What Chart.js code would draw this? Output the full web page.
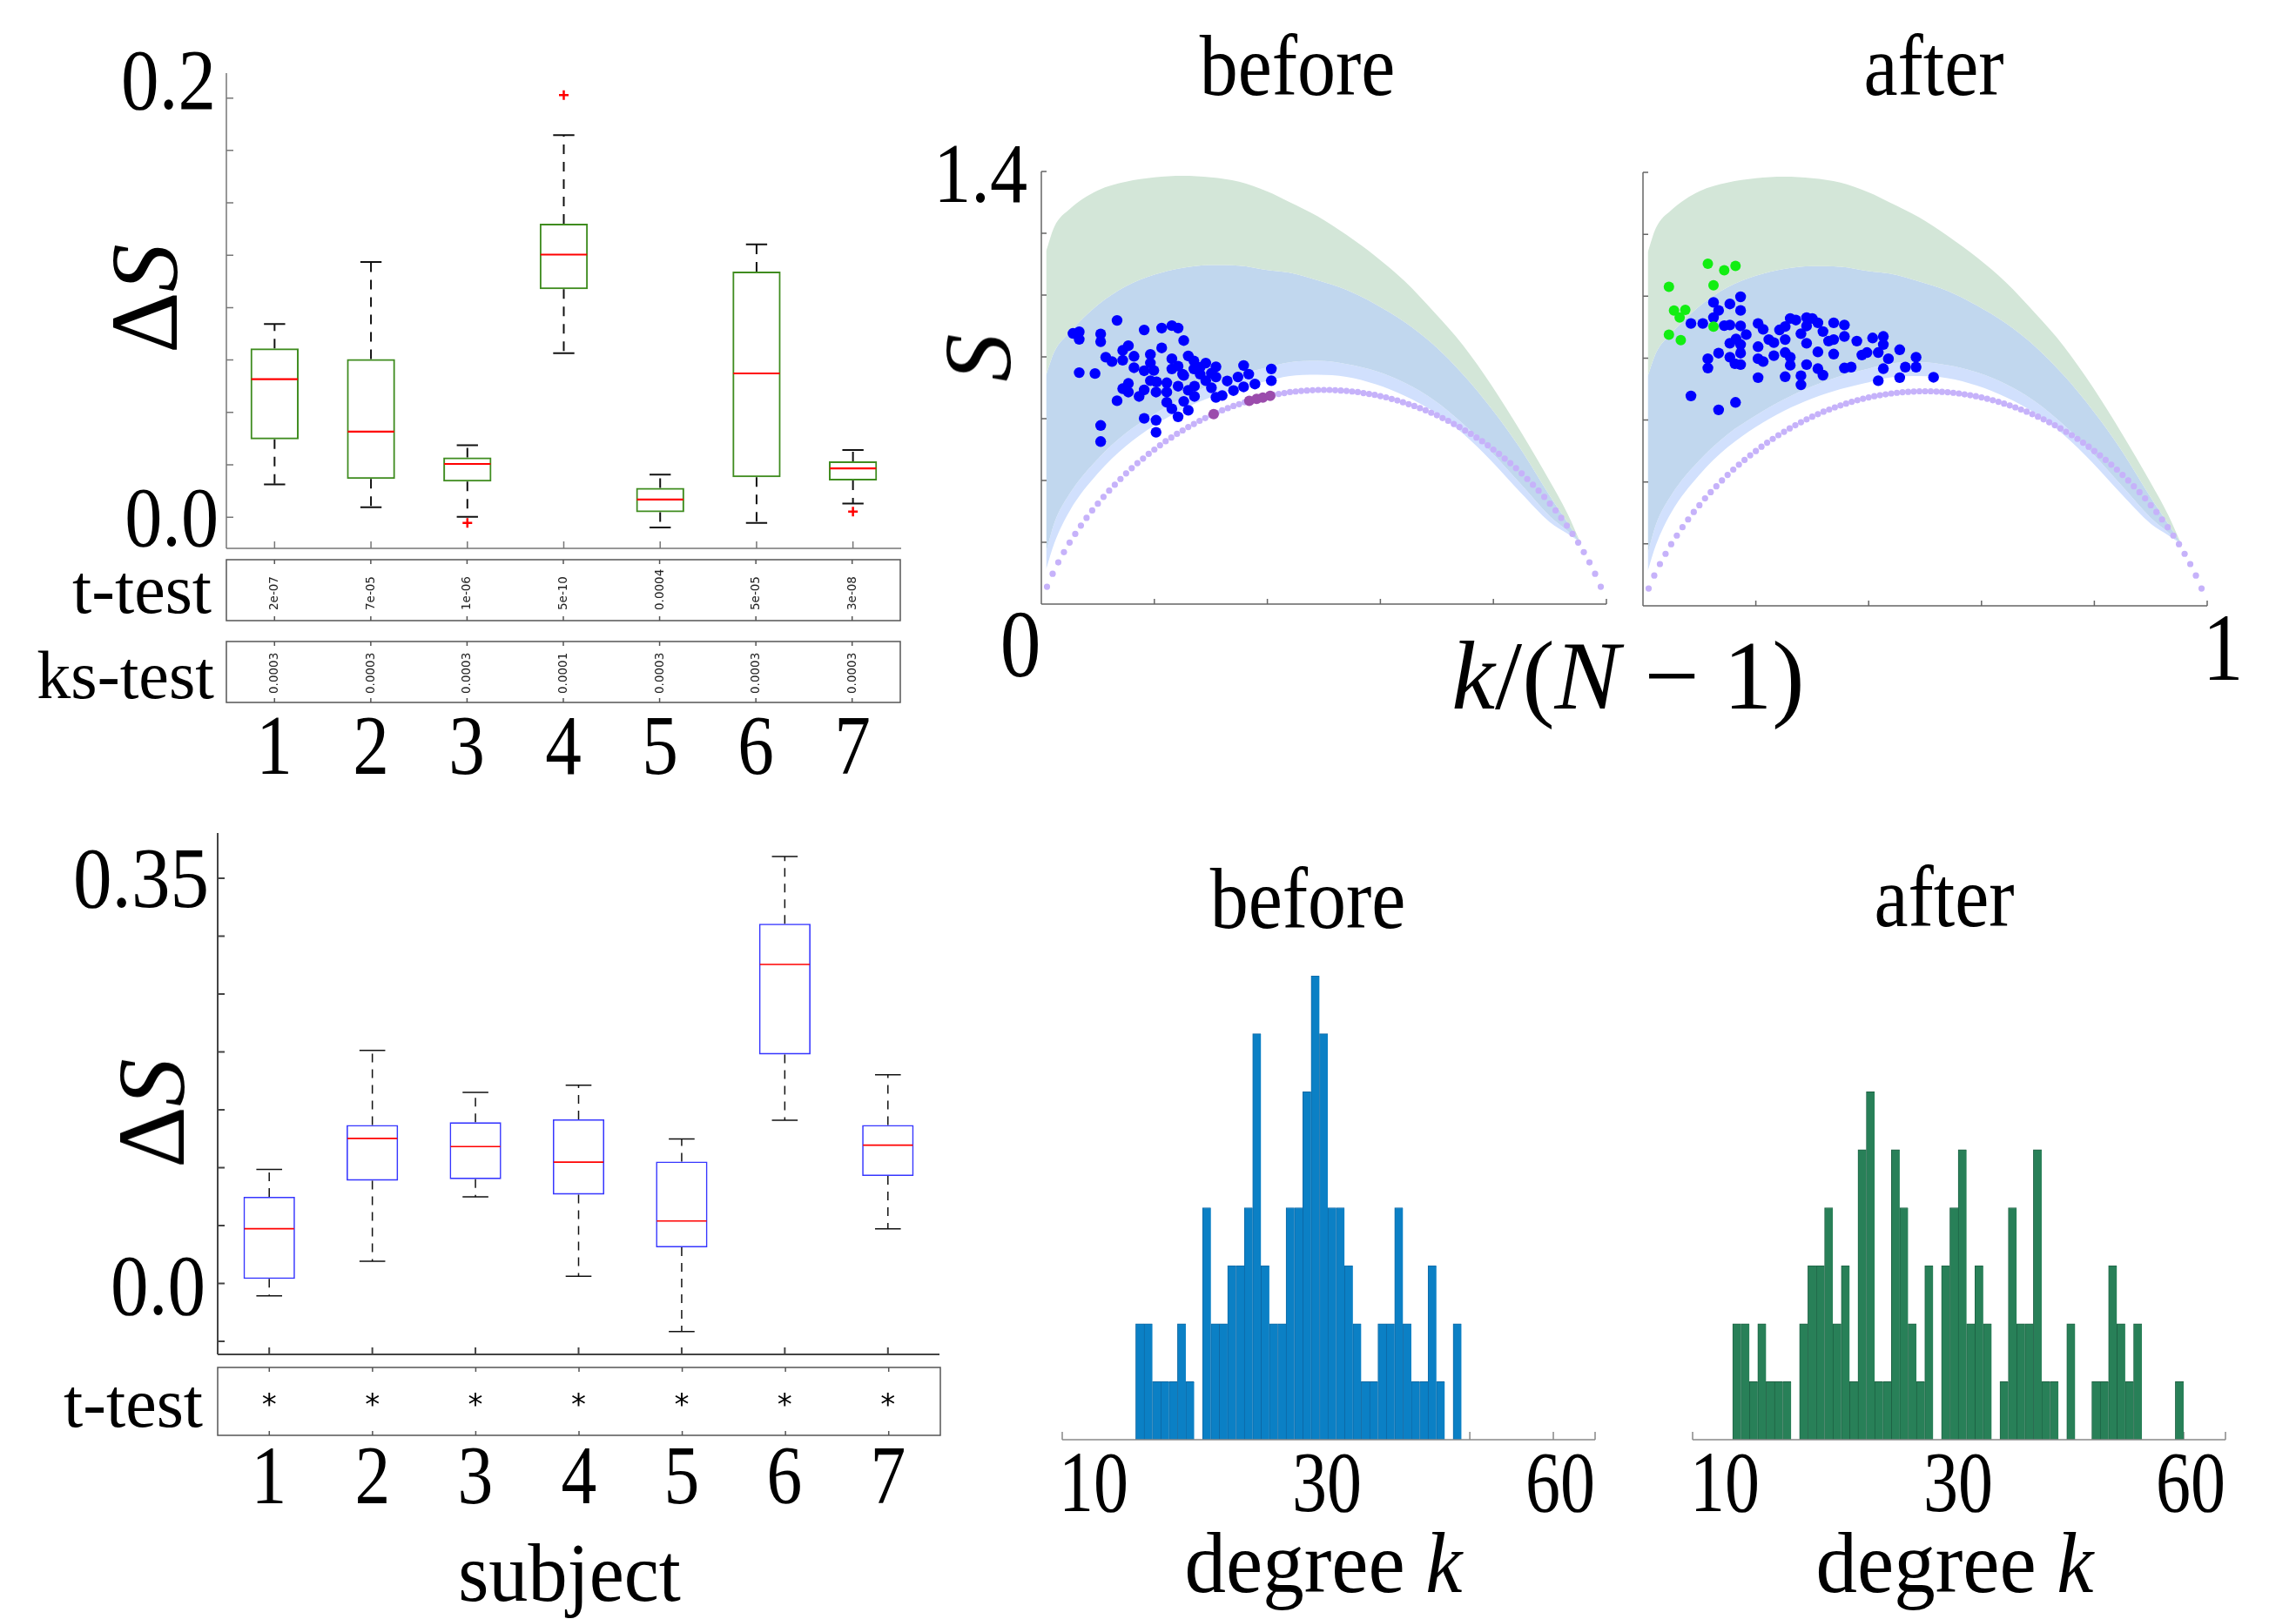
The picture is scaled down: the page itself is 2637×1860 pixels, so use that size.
<!DOCTYPE html>
<html>
<head>
<meta charset="utf-8">
<title>entropy figure</title>
<script src="https://cdn.jsdelivr.net/npm/chart.js@4.4.1/dist/chart.umd.min.js"></script>
<style>
  html, body { margin: 0; padding: 0; background: #fff; }
  #fig { position: relative; width: 2637px; height: 1860px; overflow: hidden; background: #fff;
         font-family: "Liberation Serif", "DejaVu Serif", serif; color: #000; }
  #fig canvas { position: absolute; }
  .lbl { position: absolute; white-space: nowrap; line-height: 1; }
  .pv { position: absolute; white-space: nowrap; line-height: 1; font-family: "DejaVu Sans", sans-serif;
        font-size: 13.5px; color: #222; transform-origin: 0 0; transform: rotate(-90deg) translate(0, -50%); }
  .star { position: absolute; line-height: 1; font-family: "DejaVu Sans", sans-serif; font-size: 34px;
          transform: translateX(-50%); }
</style>
</head>
<body>
<div id="fig"></div>
<script>
// ---- values ----
const subjects = [1, 2, 3, 4, 5, 6, 7];

// top box plot (green)
const topLow  = [0.0156, 0.0047, 0.0002, 0.0782, -0.0049, -0.0028, 0.0065];
const topQ1   = [0.0371, 0.0182, 0.0170, 0.1088, 0.0023, 0.0191, 0.0175];
const topMed  = [0.0658, 0.0408, 0.0254, 0.1253, 0.0084, 0.0686, 0.0233];
const topQ3   = [0.0805, 0.0754, 0.0285, 0.1400, 0.0140, 0.1172, 0.0266];
const topHigh = [0.0922, 0.1218, 0.0343, 0.1823, 0.0203, 0.1302, 0.0320];
const topOutliers = [[3, -0.0028], [4, 0.2014], [7, 0.0026]];
const tTestTop  = ['2e-07', '7e-05', '1e-06', '5e-10', '0.0004', '5e-05', '3e-08'];
const ksTestTop = ['0.0003', '0.0003', '0.0003', '0.0001', '0.0003', '0.0003', '0.0003'];

// bottom box plot (blue)
const botLow  = [-0.0107, 0.0192, 0.0749, 0.0062, -0.0415, 0.1409, 0.0473];
const botQ1   = [0.0040, 0.0888, 0.0901, 0.0768, 0.0312, 0.1978, 0.0928];
const botMed  = [0.0473, 0.1253, 0.1182, 0.1048, 0.0540, 0.2755, 0.1195];
const botQ3   = [0.0749, 0.1369, 0.1392, 0.1418, 0.1053, 0.3107, 0.1369];
const botHigh = [0.0986, 0.2012, 0.1650, 0.1713, 0.1249, 0.3688, 0.1802];
const tTestBot = ['*', '*', '*', '*', '*', '*', '*'];

// S vs k/(N-1): shaded bands (shared by both panels)
const bandX      = [0.0085, 0.023, 0.05, 0.10, 0.15, 0.20, 0.25, 0.30, 0.35, 0.40, 0.437, 0.489, 0.54, 0.592, 0.643, 0.695, 0.746, 0.797, 0.849, 0.90, 0.931, 0.954];
const greenTop   = [1.142, 1.221, 1.278, 1.339, 1.367, 1.381, 1.386, 1.381, 1.367, 1.335, 1.303, 1.255, 1.195, 1.125, 1.045, 0.945, 0.838, 0.707, 0.556, 0.397, 0.293, 0.20];
const blueTop    = [0.742, 0.817, 0.879, 0.968, 1.029, 1.066, 1.088, 1.097, 1.095, 1.081, 1.073, 1.048, 1.017, 0.970, 0.913, 0.838, 0.744, 0.632, 0.500, 0.350, 0.265, 0.20];
const lightTop   = [0.169, 0.263, 0.357, 0.470, 0.554, 0.615, 0.667, 0.709, 0.742, 0.766, 0.782, 0.787, 0.777, 0.754, 0.716, 0.660, 0.584, 0.491, 0.387, 0.284, 0.237, 0.20];
const lightBot   = [0.113, 0.197, 0.301, 0.423, 0.512, 0.578, 0.630, 0.670, 0.700, 0.722, 0.737, 0.742, 0.735, 0.711, 0.674, 0.622, 0.552, 0.462, 0.359, 0.265, 0.228, 0.20];

// lower dotted curve
const curveX = [0.01, 0.02, 0.03, 0.04, 0.05, 0.06, 0.07, 0.08, 0.09, 0.10, 0.11, 0.12, 0.13, 0.14, 0.15, 0.16, 0.17, 0.18, 0.19, 0.20,
  0.21, 0.22, 0.23, 0.24, 0.25, 0.26, 0.27, 0.28, 0.29, 0.30, 0.31, 0.32, 0.33, 0.34, 0.35, 0.36, 0.37, 0.38, 0.39, 0.40,
  0.41, 0.42, 0.43, 0.44, 0.45, 0.46, 0.47, 0.48, 0.49, 0.50, 0.51, 0.52, 0.53, 0.54, 0.55, 0.56, 0.57, 0.58, 0.59, 0.60,
  0.61, 0.62, 0.63, 0.64, 0.65, 0.66, 0.67, 0.68, 0.69, 0.70, 0.71, 0.72, 0.73, 0.74, 0.75, 0.76, 0.77, 0.78, 0.79, 0.80,
  0.81, 0.82, 0.83, 0.84, 0.85, 0.86, 0.87, 0.88, 0.89, 0.90, 0.91, 0.92, 0.93, 0.94, 0.95, 0.96, 0.97, 0.98, 0.99];
const curveY = [0.056, 0.098, 0.135, 0.168, 0.199, 0.227, 0.254, 0.279, 0.303, 0.325, 0.347, 0.367, 0.386, 0.405, 0.423, 0.440, 0.456, 0.471, 0.486, 0.500,
  0.514, 0.527, 0.539, 0.551, 0.562, 0.573, 0.583, 0.593, 0.602, 0.611, 0.619, 0.627, 0.634, 0.641, 0.647, 0.653, 0.659, 0.664, 0.669, 0.673,
  0.677, 0.680, 0.683, 0.686, 0.688, 0.690, 0.691, 0.692, 0.693, 0.693, 0.693, 0.692, 0.691, 0.690, 0.688, 0.686, 0.683, 0.680, 0.677, 0.673,
  0.669, 0.664, 0.659, 0.653, 0.647, 0.641, 0.634, 0.627, 0.619, 0.611, 0.602, 0.593, 0.583, 0.573, 0.562, 0.551, 0.539, 0.527, 0.514, 0.500,
  0.486, 0.471, 0.456, 0.440, 0.423, 0.405, 0.386, 0.367, 0.347, 0.325, 0.303, 0.279, 0.254, 0.227, 0.199, 0.168, 0.135, 0.098, 0.056];

const beforeDots = [
  [.056,.876],[.067,.881],[.067,.857],[.105,.874],[.105,.849],[.134,.918],[.182,.887],[.213,.893],[.231,.901],[.242,.893],
  [.252,.853],[.213,.829],[.067,.749],[.095,.746],[.114,.799],[.125,.785],[.144,.789],[.144,.821],[.154,.836],[.164,.802],
  [.164,.765],[.182,.755],[.193,.808],[.193,.780],[.199,.756],[.193,.723],[.204,.719],[.222,.716],[.231,.794],[.231,.761],
  [.242,.770],[.250,.744],[.260,.803],[.270,.787],[.270,.761],[.281,.744],[.291,.780],[.301,.747],[.309,.768],[.309,.735],
  [.329,.722],[.348,.735],[.358,.772],[.367,.744],[.407,.761],[.407,.723],[.378,.712],[.358,.703],[.340,.691],[.320,.675],
  [.309,.669],[.301,.700],[.271,.705],[.271,.672],[.260,.692],[.252,.656],[.260,.627],[.242,.705],[.242,.606],[.231,.632],
  [.222,.653],[.222,.686],[.203,.686],[.182,.693],[.173,.672],[.154,.714],[.144,.697],[.154,.686],[.134,.658],[.182,.601],
  [.203,.595],[.203,.556],[.105,.578],[.105,.526],[.281,.766],[.291,.723],[.252,.740]
];
const beforeOnCurve = [[.305,.615],[.368,.658],[.381,.664],[.392,.668],[.405,.674]];

const afterDots = [
  [.085,.912],[.106,.912],[.125,.980],[.154,.975],[.173,.998],[.173,.954],[.134,.954],[.125,.931],[.144,.905],[.154,.907],
  [.173,.904],[.183,.876],[.165,.862],[.154,.848],[.173,.844],[.134,.816],[.115,.798],[.115,.768],[.154,.803],[.163,.782],
  [.173,.779],[.173,.816],[.204,.912],[.213,.893],[.204,.837],[.204,.798],[.213,.789],[.223,.860],[.232,.850],[.232,.808],
  [.242,.891],[.252,.902],[.252,.860],[.252,.818],[.261,.928],[.271,.923],[.261,.803],[.261,.777],[.280,.879],[.290,.931],
  [.290,.904],[.300,.928],[.310,.914],[.319,.886],[.290,.848],[.310,.820],[.329,.855],[.338,.860],[.338,.914],[.357,.907],
  [.357,.870],[.338,.813],[.379,.855],[.388,.810],[.397,.818],[.407,.865],[.426,.870],[.426,.844],[.417,.818],[.435,.798],
  [.426,.766],[.455,.827],[.465,.771],[.484,.803],[.484,.771],[.357,.768],[.369,.771],[.290,.779],[.310,.766],[.319,.745],
  [.280,.743],[.280,.714],[.252,.740],[.204,.737],[.417,.727],[.455,.737],[.515,.738],[.085,.678],[.134,.633],[.164,.657]
];
const afterGreen = [[.115,1.105],[.144,1.084],[.164,1.098],[.046,1.030],[.125,1.035],[.055,.954],[.075,.956],[.065,.931],[.125,.902],[.046,.876],[.067,.858]];

// degree histograms: one bar per degree, counts from the first degree on
const beforeStart = 10;
const beforeCounts = [2,2,1,1,1,2,1,0,4,2,2,3,3,4,7,3,2,2,4,4,6,8,7,4,4,3,2,1,1,2,2,4,2,1,1,3,1,0,2];
const afterStart = 6;
const afterCounts = [2,2,1,2,1,1,1,0,2,3,3,4,2,3,1,5,6,1,1,5,4,2,1,3,0,3,4,5,2,3,2,0,1,4,2,2,5,1,1,0,2,0,0,1,1,3,2,1,2,0,0,0,0,1];
const histTickLabels = ['10', '30', '60'];

// ---- layout ----
const fig = document.getElementById('fig');
const P = 24;

function place(area) {
  const c = document.createElement('canvas');
  c.width = area.r - area.l + 2 * P;
  c.height = area.b - area.t + 2 * P;
  c.style.left = (area.l - P) + 'px';
  c.style.top = (area.t - P) + 'px';
  fig.appendChild(c);
  return c;
}

function baseOptions(xr, yr, xTickValues) {
  const x = { type: 'linear', display: false, min: xr[0], max: xr[1], offset: false };
  if (xTickValues) x.afterBuildTicks = scale => { scale.ticks = xTickValues.map(v => ({ value: v })); };
  return {
    responsive: false, animation: false, devicePixelRatio: 1, events: [],
    layout: { padding: P },
    plugins: { legend: { display: false }, tooltip: { enabled: false } },
    scales: { x, y: { type: 'linear', display: false, min: yr[0], max: yr[1] } }
  };
}

// spines and inward ticks
function framePlugin(cfg) {
  const draw = (chart, part) => {
    const { ctx, chartArea: a, scales: { x, y } } = chart;
    ctx.save();
    ctx.strokeStyle = cfg.color || '#666';
    ctx.lineWidth = cfg.width || 1.5;
    ctx.beginPath();
    if (part !== 'ticks') {
      if (cfg.box) ctx.rect(a.left, a.top, a.right - a.left, a.bottom - a.top);
      if (cfg.left) { ctx.moveTo(a.left, a.top); ctx.lineTo(a.left, a.bottom); }
      if (cfg.bottom) { ctx.moveTo(a.left, a.bottom); ctx.lineTo(a.right, a.bottom); }
    }
    if (part !== 'lines') {
      (cfg.yTicks || []).forEach(v => {
        const py = y.getPixelForValue(v);
        ctx.moveTo(a.left, py); ctx.lineTo(a.left + cfg.len, py);
      });
      (cfg.xTicks || []).forEach(v => {
        const px = x.getPixelForValue(v);
        ctx.moveTo(px, a.bottom); ctx.lineTo(px, a.bottom - cfg.len);
        if (cfg.topTicks) { ctx.moveTo(px, a.top); ctx.lineTo(px, a.top + cfg.len); }
      });
    }
    ctx.stroke();
    ctx.restore();
  };
  return {
    id: 'frame',
    beforeDatasetsDraw(chart) { if (cfg.ticksUnder) draw(chart, 'ticks'); },
    afterDatasetsDraw(chart) { draw(chart, cfg.ticksUnder ? 'lines' : 'all'); }
  };
}

// whiskers, caps and medians of a box plot
function whiskerPlugin(st) {
  return {
    id: 'whiskers',
    afterDatasetsDraw(chart) {
      const { ctx, scales: { x, y } } = chart;
      ctx.save();
      subjects.forEach((s, i) => {
        const px = x.getPixelForValue(s);
        const cap = x.getPixelForValue(s + st.cap / 2) - px;
        const half = x.getPixelForValue(s + 0.25) - px;
        ctx.strokeStyle = '#111';
        ctx.lineWidth = st.wW;
        ctx.setLineDash(st.dash);
        ctx.beginPath();
        ctx.moveTo(px, y.getPixelForValue(st.q3[i])); ctx.lineTo(px, y.getPixelForValue(st.high[i]));
        ctx.moveTo(px, y.getPixelForValue(st.q1[i])); ctx.lineTo(px, y.getPixelForValue(st.low[i]));
        ctx.stroke();
        ctx.setLineDash([]);
        ctx.beginPath();
        [st.high[i], st.low[i]].forEach(v => {
          const py = y.getPixelForValue(v);
          ctx.moveTo(px - cap, py); ctx.lineTo(px + cap, py);
        });
        ctx.stroke();
        ctx.strokeStyle = '#ff0000';
        ctx.lineWidth = st.medW;
        ctx.beginPath();
        const pm = y.getPixelForValue(st.med[i]);
        ctx.moveTo(px - half + 1, pm); ctx.lineTo(px + half - 1, pm);
        ctx.stroke();
      });
      ctx.restore();
    }
  };
}

function boxChart(area, yr, st, color, boxW, outliers) {
  const opts = baseOptions([0.5, 7.5], yr, subjects);
  const datasets = [{
    type: 'bar',
    data: subjects.map((s, i) => ({ x: s, y: [st.q1[i], st.q3[i]] })),
    backgroundColor: 'rgba(255,255,255,0)',
    borderColor: color, borderWidth: boxW, borderSkipped: false,
    barPercentage: 0.5, categoryPercentage: 1
  }];
  if (outliers.length) datasets.unshift({
    type: 'line', showLine: false,
    data: outliers.map(p => ({ x: p[0], y: p[1] })),
    pointStyle: 'cross', pointRadius: 5.5, pointBorderWidth: 2.5,
    pointBorderColor: '#ff0000', clip: false
  });
  return new Chart(place(area), {
    type: 'bar', data: { datasets }, options: opts,
    plugins: [whiskerPlugin(st), framePlugin({ left: true, bottom: true, len: 8, color: st.axis, width: st.axisW,
      yTicks: st.yTicks, xTicks: subjects })]
  });
}

function rowChart(area) {
  return new Chart(place(area), {
    type: 'scatter', data: { datasets: [] }, options: baseOptions([0.5, 7.5], [0, 1], subjects),
    plugins: [framePlugin({ box: true, len: 5, color: '#555', width: 1.5, xTicks: subjects, topTicks: true })]
  });
}

function scatterChart(area, dots, extra) {
  const pts = arr => arr.map(p => ({ x: p[0], y: p[1] }));
  const band = (ys, fill, color) => ({
    data: bandX.map((v, i) => ({ x: v, y: ys[i] })),
    showLine: true, borderWidth: 0, borderColor: 'rgba(0,0,0,0)', pointRadius: 0,
    cubicInterpolationMode: 'monotone', fill: fill, backgroundColor: color
  });
  const datasets = [
    ...extra,
    { data: pts(dots), showLine: false, pointRadius: 6.2, pointBorderWidth: 0, pointBackgroundColor: '#0000ff', clip: false },
    { data: curveX.map((v, i) => ({ x: v, y: curveY[i] })), showLine: false, pointRadius: 3.6, pointBorderWidth: 0,
      pointBackgroundColor: 'rgb(198,178,250)', clip: false },
    band(greenTop, '+1', 'rgb(211,230,216)'),
    band(blueTop, '+1', 'rgb(193,215,238)'),
    band(lightTop, '+1', 'rgb(209,224,253)'),
    band(lightBot, false, 'rgba(0,0,0,0)')
  ];
  return new Chart(place(area), {
    type: 'line', data: { datasets }, options: baseOptions([0, 1], [0, 1.4]),
    plugins: [framePlugin({ left: true, bottom: true, len: 6, color: '#666', width: 1.5,
      yTicks: [0, 0.2, 0.4, 0.6, 0.8, 1.0, 1.2, 1.4], xTicks: [0, 0.2, 0.4, 0.6, 0.8, 1.0] })]
  });
}

function histChart(area, start, counts, fill, edge) {
  const opts = baseOptions([1.2, 65], [0, 8]);
  return new Chart(place(area), {
    type: 'bar',
    data: { datasets: [{
      data: counts.map((c, i) => ({ x: start + i + 0.5, y: c })),
      backgroundColor: fill, borderColor: edge,
      borderWidth: { left: 1, top: 1, right: 0, bottom: 0 },
      barPercentage: 1, categoryPercentage: 1
    }] },
    options: opts,
    plugins: [framePlugin({ bottom: true, len: 9, color: '#888', width: 1.5, ticksUnder: true, xTicks: [1.2, 50, 60, 65] })]
  });
}

// ---- charts ----
const topArea = { l: 260, t: 84, r: 1035, b: 630 };
const topBox = boxChart(topArea, [-0.0149, 0.2119],
  { low: topLow, q1: topQ1, med: topMed, q3: topQ3, high: topHigh, cap: 0.22, dash: [11, 9], wW: 2, medW: 2.2,
    axis: '#777', axisW: 1.5, yTicks: [0, 0.025, 0.05, 0.075, 0.1, 0.125, 0.15, 0.175, 0.2] },
  '#3f8c1f', 2, topOutliers);
const tRowTop = rowChart({ l: 260, t: 643, r: 1034, b: 713 });
const ksRowTop = rowChart({ l: 260, t: 737, r: 1034, b: 807 });

const botArea = { l: 250, t: 957, r: 1079, b: 1556 };
const botBox = boxChart(botArea, [-0.0612, 0.389],
  { low: botLow, q1: botQ1, med: botMed, q3: botQ3, high: botHigh, cap: 0.25, dash: [10, 8], wW: 1.5, medW: 1.6,
    axis: '#444', axisW: 2, yTicks: [-0.05, 0, 0.05, 0.1, 0.15, 0.2, 0.25, 0.3, 0.35] },
  '#3636ff', 1.6, []);
const tRowBot = rowChart({ l: 250, t: 1571, r: 1080, b: 1649 });

const scBeforeArea = { l: 1196, t: 197, r: 1845, b: 694 };
const scAfterArea = { l: 1887, t: 198, r: 2535, b: 696 };
scatterChart(scBeforeArea, beforeDots, [
  { data: beforeOnCurve.map(p => ({ x: p[0], y: p[1] })), showLine: false, pointRadius: 6, pointBorderWidth: 0,
    pointBackgroundColor: 'rgb(155,76,172)', clip: false }
]);
scatterChart(scAfterArea, afterDots, [
  { data: afterGreen.map(p => ({ x: p[0], y: p[1] })), showLine: false, pointRadius: 6, pointBorderWidth: 0,
    pointBackgroundColor: '#12ee12', clip: false }
]);

histChart({ l: 1220, t: 1121, r: 1832, b: 1654 }, beforeStart, beforeCounts, 'rgb(11,128,197)', 'rgb(14,104,165)');
histChart({ l: 1944, t: 1121, r: 2556, b: 1654 }, afterStart, afterCounts, 'rgb(40,128,88)', 'rgb(30,98,68)');

// ---- text ----
function label(html, x, base, size, opt = {}) {
  const d = document.createElement('div');
  d.className = 'lbl';
  d.innerHTML = html;
  d.style.fontSize = size + 'px';
  const sx = opt.sx || 1;
  d.style.left = x + 'px';
  if (opt.rot) {
    d.style.top = base + 'px';
    d.style.transform = 'translate(-50%, -50%) rotate(-90deg)';
  } else {
    d.style.top = (base - 0.8375 * size) + 'px';
    const al = opt.align || 'center';
    if (al === 'center') { d.style.transformOrigin = '50% 50%'; d.style.transform = 'translateX(-50%) scaleX(' + sx + ')'; }
    else if (al === 'right') { d.style.transformOrigin = '100% 50%'; d.style.transform = 'translateX(-100%) scaleX(' + sx + ')'; }
    else { d.style.transformOrigin = '0 50%'; d.style.transform = 'scaleX(' + sx + ')'; }
  }
  fig.appendChild(d);
}
function xOf(chart, area, v) { return area.l - P + chart.scales.x.getPixelForValue(v); }

// top-left
label('0.2', 248, 124.6, 99, { align: 'right', sx: 0.88 });
label('0.0', 251, 627, 98, { align: 'right', sx: 0.88 });
label('Δ<i>S</i>', 166, 343, 110, { rot: true });
label('t-test', 243, 704, 80, { align: 'right' });
label('ks-test', 246, 802, 78, { align: 'right' });
subjects.forEach((s, i) => {
  const x = xOf(tRowTop, topArea, s);
  const pv = document.createElement('div');
  pv.className = 'pv'; pv.textContent = tTestTop[i];
  pv.style.left = x + 'px'; pv.style.top = '701px';
  fig.appendChild(pv);
  const kv = document.createElement('div');
  kv.className = 'pv'; kv.textContent = ksTestTop[i];
  kv.style.left = x + 'px'; kv.style.top = '797px';
  fig.appendChild(kv);
  label(String(s), x, 889, 98, { sx: 0.85 });
});

// bottom-left
label('0.35', 240, 1041.5, 99, { align: 'right', sx: 0.9 });
label('0.0', 236, 1510, 99, { align: 'right', sx: 0.88 });
label('Δ<i>S</i>', 174, 1279, 110, { rot: true });
label('t-test', 233, 1639, 80, { align: 'right' });
subjects.forEach((s, i) => {
  const x = xOf(botBox, botArea, s);
  const st = document.createElement('div');
  st.className = 'star'; st.textContent = tTestBot[i];
  st.style.left = x + 'px'; st.style.top = '1596px';
  fig.appendChild(st);
  label(String(s), x, 1727, 96, { sx: 0.85 });
});
label('subject', 654, 1840, 95, { sx: 0.95 });

// top-right
label('before', 1490, 110, 100, { sx: 0.88 });
label('after', 2221, 110, 100, { sx: 0.88 });
label('1.4', 1180, 231.7, 98, { align: 'right', sx: 0.88 });
label('<i>S</i>', 1123, 411, 110, { rot: true });
label('0', 1172, 776.7, 110, { sx: 0.85 });
label('1', 2553, 780.7, 110, { sx: 0.85 });
label('<i>k</i>/(<i>N</i> − 1)', 1870, 814, 112);

// bottom-right
label('before', 1502, 1067, 100, { sx: 0.88 });
label('after', 2233, 1065, 100, { sx: 0.88 });
[1256, 1524, 1792].forEach((x, i) => label(histTickLabels[i], x, 1737, 100, { sx: 0.8 }));
[1981, 2249, 2516].forEach((x, i) => label(histTickLabels[i], x, 1737, 100, { sx: 0.8 }));
label('degree <i>k</i>', 1520, 1830, 100, { sx: 0.95 });
label('degree <i>k</i>', 2245, 1830, 100, { sx: 0.95 });
</script>
</body>
</html>
